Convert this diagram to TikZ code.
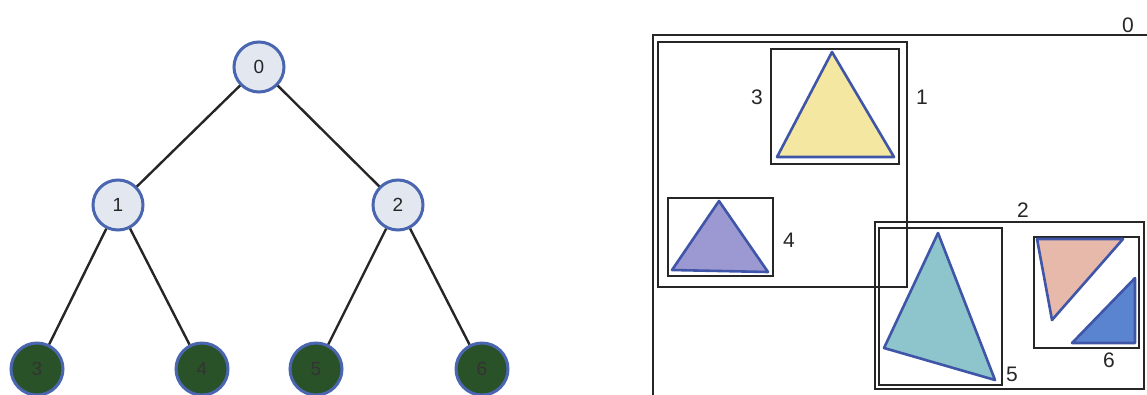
\documentclass[tikz,border=0pt]{standalone}
\usepackage{fontspec}
\setmainfont{Liberation Sans}
\begin{document}
\begin{tikzpicture}[x=1pt,y=-1pt,
  inner/.style={circle,draw=nodeblue,line width=3pt,fill=nodefill,minimum size=50pt,inner sep=0pt,font=\fontsize{19}{19}\selectfont,text=black!85},
  leaf/.style={circle,draw=nodeblue,line width=3pt,fill=leafgreen,minimum size=52pt,inner sep=0pt,font=\fontsize{19}{19}\selectfont,text=black!80},
  edge/.style={line width=2.4pt,draw=black!85},
  bbox/.style={line width=2.4pt,draw=black!85},
  tri/.style={line width=2.6pt,draw=triblue,line join=round},
  lab/.style={font=\fontsize{21}{21}\selectfont,text=black!85,inner sep=0pt}]
\definecolor{nodeblue}{HTML}{4A66B0}
\definecolor{nodefill}{HTML}{E3E7EF}
\definecolor{leafgreen}{HTML}{2A5228}
\definecolor{triblue}{HTML}{3F55A8}
\definecolor{yel}{HTML}{F3E7A2}
\definecolor{purp}{HTML}{9C98D2}
\definecolor{cyanf}{HTML}{8EC4CB}
\definecolor{pinkf}{HTML}{E6B9AA}
\definecolor{bluef}{HTML}{5A84D0}
\useasboundingbox (0,0) rectangle (1147,394);
\clip (0,0) rectangle (1147,394);
% tree
\node[inner] (n0) at (259,67) {0};
\node[inner] (n1) at (118,205) {1};
\node[inner] (n2) at (398,205) {2};
\node[leaf] (n3) at (37,369) {3};
\node[leaf] (n4) at (202,369) {4};
\node[leaf] (n5) at (316,369) {5};
\node[leaf] (n6) at (482,369) {6};
\draw[edge] (n0) -- (n1);
\draw[edge] (n0) -- (n2);
\draw[edge] (n1) -- (n3);
\draw[edge] (n1) -- (n4);
\draw[edge] (n2) -- (n5);
\draw[edge] (n2) -- (n6);
% boxes
\draw[bbox] (1160,35) -- (653,35) -- (653,410);
\node[lab] (l0) at (1128,25) {0};
\draw[bbox] (658,42) rectangle (907,287);
\node[lab] (l1) at (922,97) {1};
\draw[bbox] (771,49) rectangle (899,164);
\node[lab] (l3) at (757,97) {3};
\filldraw[tri,fill=yel] (832,52) -- (777,157) -- (894,157) -- cycle;
\draw[bbox] (668,198) rectangle (773,276);
\node[lab] (l4) at (789,240) {4};
\filldraw[tri,fill=purp] (719,201) -- (672,270) -- (768,272) -- cycle;
\draw[bbox] (875,222) rectangle (1144,389);
\node[lab] (l2) at (1023,210) {2};
\draw[bbox] (879,228) rectangle (1002,385);
\node[lab] (l5) at (1012,374) {5};
\filldraw[tri,fill=cyanf] (938,233) -- (884,348) -- (995,380) -- cycle;
\draw[bbox] (1034,237) rectangle (1139,348);
\node[lab] (l6) at (1109,360) {6};
\filldraw[tri,fill=pinkf] (1037,239) -- (1123,239) -- (1052,320) -- cycle;
\filldraw[tri,fill=bluef] (1072,343) -- (1135,343) -- (1135,278) -- cycle;
\end{tikzpicture}
\end{document}
